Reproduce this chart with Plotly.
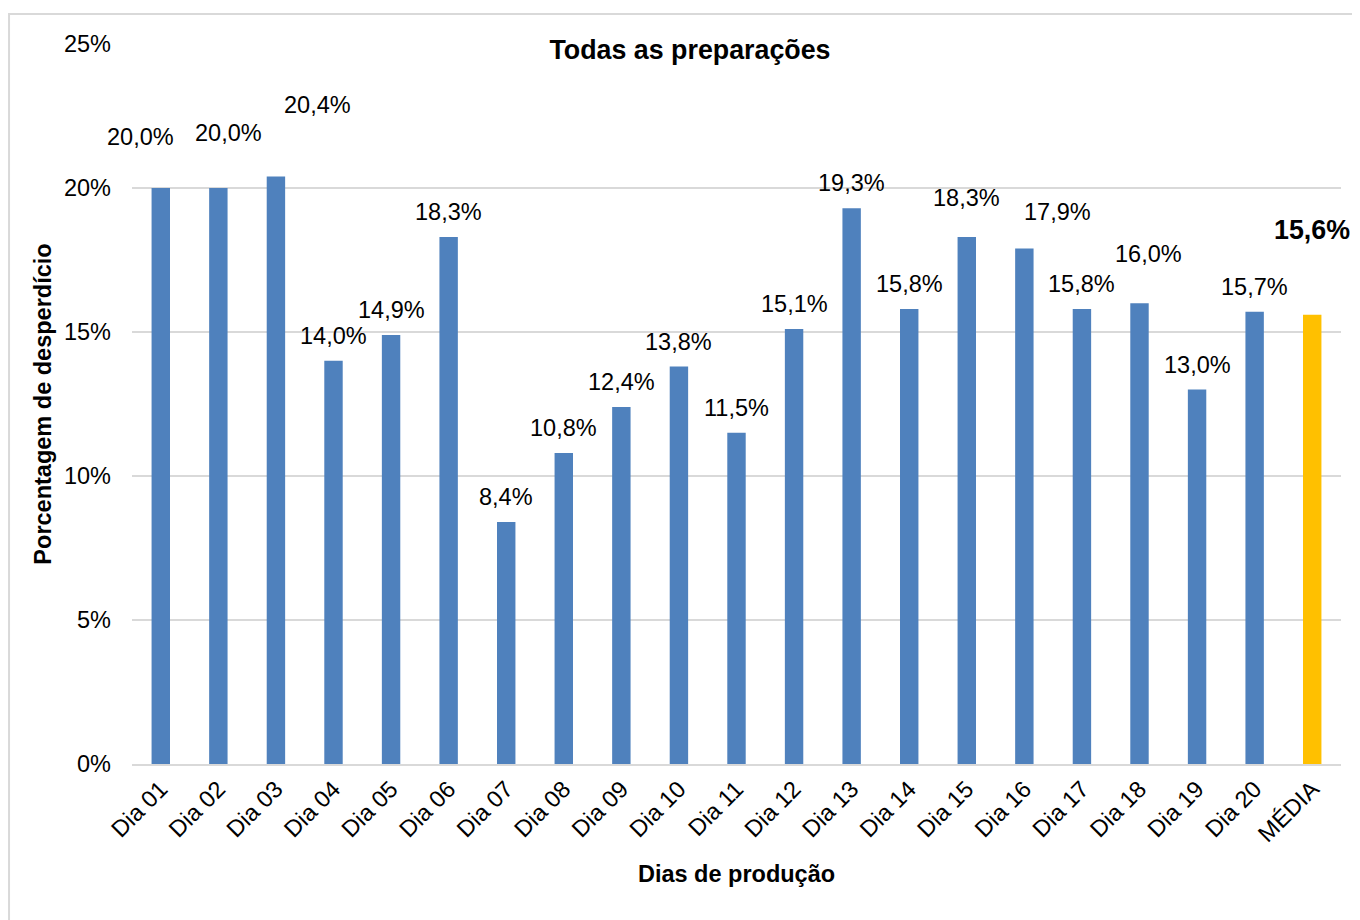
import plotly.graph_objects as go

# Daily waste percentage (%), last bar is the average
days = ["Dia 01", "Dia 02", "Dia 03", "Dia 04", "Dia 05", "Dia 06", "Dia 07",
        "Dia 08", "Dia 09", "Dia 10", "Dia 11", "Dia 12", "Dia 13", "Dia 14",
        "Dia 15", "Dia 16", "Dia 17", "Dia 18", "Dia 19", "Dia 20", "MÉDIA"]
waste = [20.0, 20.0, 20.4, 14.0, 14.9, 18.3, 8.4, 10.8, 12.4, 13.8, 11.5,
         15.1, 19.3, 15.8, 18.3, 17.9, 15.8, 16.0, 13.0, 15.7, 15.6]
y_ticks = [0, 5, 10, 15, 20, 25]
y_ticktext = ["0%", "5%", "10%", "15%", "20%", "25%"]

# label offsets in pixels (Excel labels were dragged around by hand)
label_dx = [-20, 10, 42, 0, 0, 0, 0, 0, 0, 0, 0, 0, 0, 0, 0, 33, 0, 9, 0, 0, 0]
label_dy = [51, 55, 71, 25, 25, 25, 25, 25, 25, 25, 25, 25, 25, 25, 39, 36, 25, 49, 25, 25, 85]

FONT = "Liberation Sans, Arial, sans-serif"
BLUE = "#4F81BD"
GOLD = "#FFC000"
FS = 23.5      # regular text
FS_BIG = 26.8  # title / average label

colors = [BLUE] * (len(days) - 1) + [GOLD]

fig = go.Figure()
fig.add_trace(go.Bar(
    x=days,
    y=waste,
    marker=dict(color=colors, line=dict(width=0)),
    showlegend=False,
))

for i, (d, v) in enumerate(zip(days, waste)):
    is_avg = d == "MÉDIA"
    txt = f"{v:.1f}%".replace(".", ",")
    fig.add_annotation(
        x=d, y=v, text=f"<b>{txt}</b>" if is_avg else txt,
        showarrow=False, yanchor="middle", xanchor="center",
        xshift=label_dx[i], yshift=label_dy[i],
        font=dict(family=FONT, size=FS_BIG if is_avg else FS, color="black"),
    )

# light frame around the chart area
fig.add_shape(type="rect", xref="paper", yref="paper",
              x0=-0.1017, x1=1.03, y0=-0.23, y1=1.0417,
              line=dict(color="#D9D9D9", width=2), layer="below")

# page body has an 8px margin, so the figure is a bit smaller than the window
fig.update_layout(
    width=1352, height=912,
    margin=dict(l=124, r=19, t=36, b=156),
    paper_bgcolor="white", plot_bgcolor="white",
    font=dict(family=FONT, size=FS, color="black"),
    bargap=0.68,
    title=dict(text="<b>Todas as preparações</b>", xref="container", yref="container",
               x=682 / 1352, y=1 - 42 / 912, xanchor="center", yanchor="middle",
               font=dict(family=FONT, size=FS_BIG, color="black")),
)
fig.update_xaxes(
    range=[-0.5, len(days) - 0.5], tickangle=-45, showgrid=False,
    showline=True, linecolor="#D9D9D9", linewidth=2,
    tickfont=dict(family=FONT, size=FS, color="black"),
    title=dict(text="<b>Dias de produção</b>", standoff=20,
               font=dict(family=FONT, size=FS, color="black")),
)
fig.update_yaxes(
    range=[0, 25], tickvals=y_ticks, ticktext=y_ticktext,
    showgrid=True, gridcolor="#D9D9D9", gridwidth=2,
    zeroline=False, showline=False, ticklabelstandoff=20,
    tickfont=dict(family=FONT, size=FS, color="black"),
    title=dict(text="<b>Porcentagem de desperdício</b>", standoff=5,
               font=dict(family=FONT, size=FS, color="black")),
)

fig.write_html("out.html")
